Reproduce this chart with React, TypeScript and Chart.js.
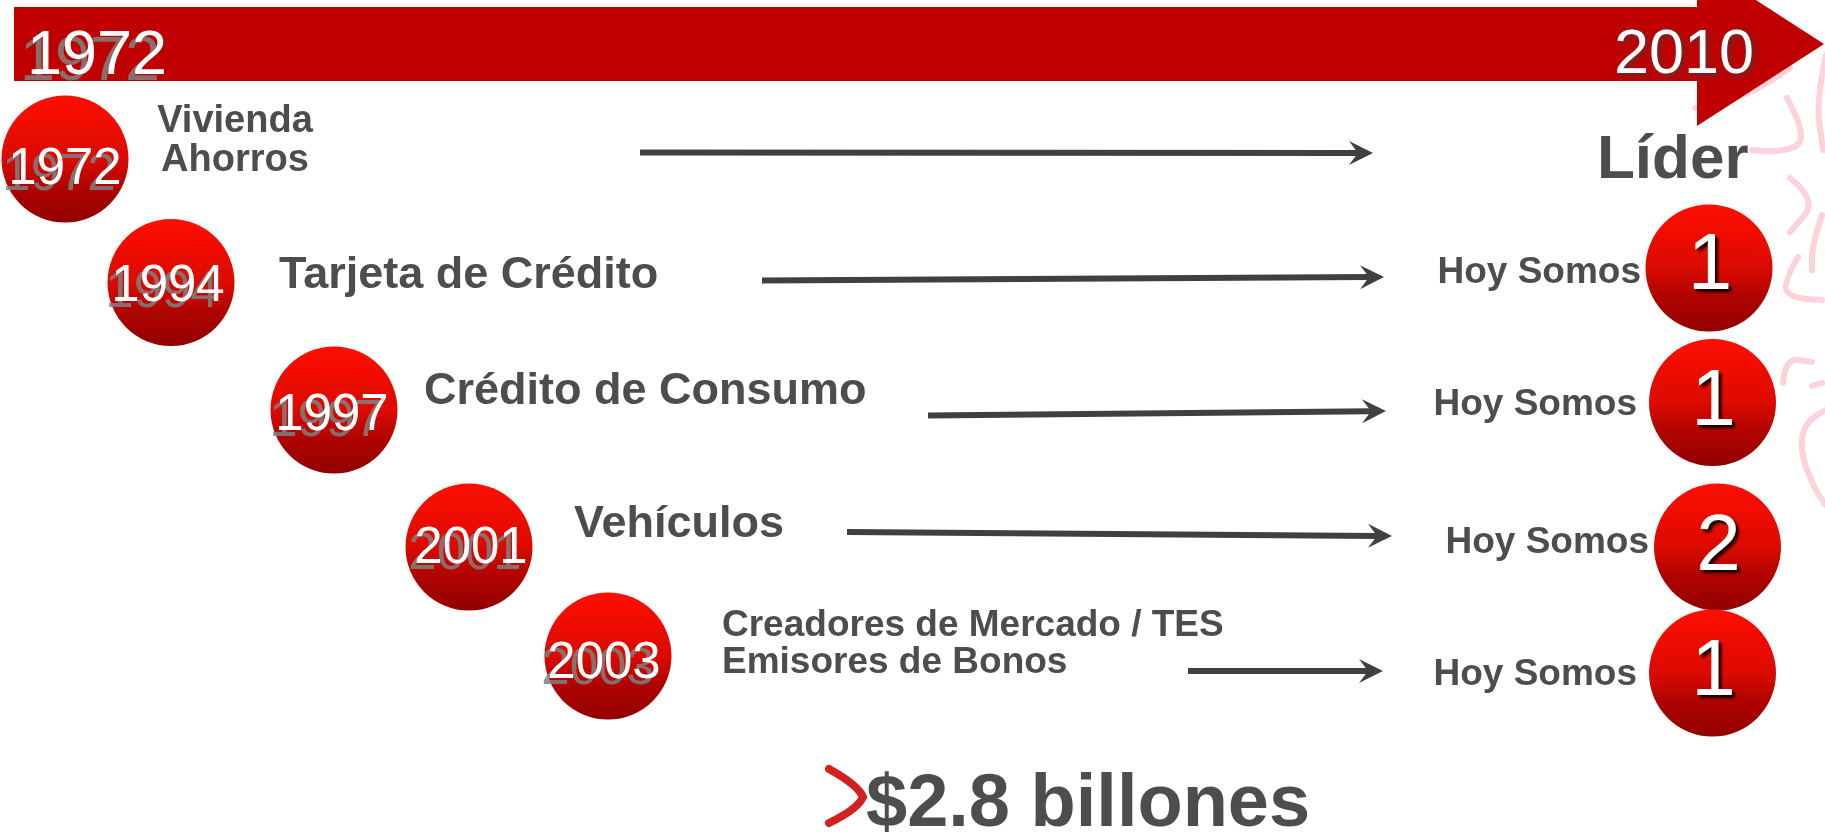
import { useEffect, useRef } from "react";
import { Chart, registerables } from "chart.js";

Chart.register(...registerables);

// ---------- data ----------
const timelineStart = "1972";
const timelineEnd = "2010";
const years = ["1972", "1994", "1997", "2001", "2003"];
const products = [
  ["Vivienda", "Ahorros"],
  ["Tarjeta de Crédito"],
  ["Crédito de Consumo"],
  ["Vehículos"],
  ["Creadores de Mercado / TES", "Emisores de Bonos"],
];
const leaderLabel = "Líder";
const rankPrefix = "Hoy Somos";
const ranks = [1, 1, 2, 1];
const totalLabel = "$2.8 billones";

// ---------- layout (canvas units) ----------
const W = 1825;
const H = 836;
const FONT = '"Liberation Sans", Arial, sans-serif';
const yearCircleX = [65, 171, 334, 469, 608];
const yearCircleY = [159, 282.5, 410, 547, 656];
const yearTextX = [65, 168, 332, 471, 604];
const yearTextY = [184, 301, 430, 563, 678];
const rankCircleX = [1709, 1712.5, 1717.5, 1712.5];
const rankCircleY = [268, 402.5, 547, 673];
const rankTextY = [289, 424.5, 570, 695];
const hoyRight = [1641, 1637, 1649, 1637];
const hoyBase = [283, 415, 553, 685];
const arrowStart = [[640, 152.5], [762, 280.5], [928, 415.5], [847, 532], [1188, 671]];
const arrowEnd = [[1373, 153], [1384, 277], [1386, 411], [1392, 536], [1383, 671]];
const productLayout = [
  { x: 235, y: [132, 171], size: 38, align: "center" },
  { x: 279, y: [288], size: 45, align: "left" },
  { x: 424, y: [404], size: 45, align: "left" },
  { x: 574, y: [537], size: 45, align: "left" },
  { x: 722, y: [636, 673], size: 37, align: "left" },
];
const bannerShape = [[14, 7], [1697, 7], [1697, -38], [1824, 44], [1697, 126], [1697, 81], [14, 81]];
const decorStrokes = [
  [[1695, 108], [1745, 98], [1790, 68]],
  [[1787, 98], [1800, 122], [1802, 146], [1775, 152], [1752, 150]],
  [[1826, 55], [1816, 100], [1823, 150]],
  [[1790, 178], [1818, 200], [1790, 232]],
  [[1822, 215], [1812, 245], [1812, 270]],
  [[1798, 257], [1782, 285], [1792, 298], [1822, 300]],
  [[1783, 383], [1785, 358], [1812, 362]],
  [[1812, 386], [1822, 383]],
  [[1826, 410], [1805, 420], [1800, 452], [1815, 490], [1826, 505]],
];

const circleGradient = (ctx: any, r: number) => {
  const raw = ctx.raw;
  const chart = ctx.chart;
  if (!raw || !chart.scales || !chart.scales.y) return "#d00800";
  const y = chart.scales.y.getPixelForValue(raw.y);
  if (!Number.isFinite(y)) return "#d00800";
  const g = chart.ctx.createLinearGradient(0, y - r, 0, y + r);
  g.addColorStop(0, "#ff0e00");
  g.addColorStop(0.5, "#dc0a00");
  g.addColorStop(0.72, "#b00400");
  g.addColorStop(1, "#920000");
  return g;
};

const infographic = {
  id: "infographic",
  beforeDatasetsDraw(chart: any) {
    const { ctx } = chart;
    const sx = chart.scales.x;
    const sy = chart.scales.y;
    const X = (v: number) => sx.getPixelForValue(v);
    const Y = (v: number) => sy.getPixelForValue(v);
    ctx.save();
    ctx.strokeStyle = "rgba(250,200,208,0.8)";
    ctx.lineWidth = 6;
    ctx.lineCap = "round";
    ctx.lineJoin = "round";
    for (const path of decorStrokes) {
      ctx.beginPath();
      ctx.moveTo(X(path[0][0]), Y(path[0][1]));
      for (let i = 1; i < path.length - 1; i++) {
        const mx = (path[i][0] + path[i + 1][0]) / 2;
        const my = (path[i][1] + path[i + 1][1]) / 2;
        ctx.quadraticCurveTo(X(path[i][0]), Y(path[i][1]), X(mx), Y(my));
      }
      const last = path[path.length - 1];
      ctx.lineTo(X(last[0]), Y(last[1]));
      ctx.stroke();
    }
    ctx.fillStyle = "#c00000";
    ctx.beginPath();
    bannerShape.forEach(([a, b], i) => (i ? ctx.lineTo(X(a), Y(b)) : ctx.moveTo(X(a), Y(b))));
    ctx.closePath();
    ctx.fill();
    ctx.restore();
  },
  afterDatasetsDraw(chart: any) {
    const { ctx } = chart;
    const sx = chart.scales.x;
    const sy = chart.scales.y;
    const X = (v: number) => sx.getPixelForValue(v);
    const Y = (v: number) => sy.getPixelForValue(v);
    ctx.save();
    ctx.textBaseline = "alphabetic";

    // arrowheads
    ctx.fillStyle = "#404040";
    arrowEnd.forEach(([ex, ey], i) => {
      const [sx0, sy0] = arrowStart[i];
      const tx = X(ex), ty = Y(ey);
      let dx = tx - X(sx0), dy = ty - Y(sy0);
      const len = Math.hypot(dx, dy);
      dx /= len; dy /= len;
      const nx = -dy, ny = dx;
      ctx.beginPath();
      ctx.moveTo(tx, ty);
      ctx.lineTo(tx - 24 * dx + 12 * nx, ty - 24 * dy + 12 * ny);
      ctx.lineTo(tx - 15 * dx, ty - 15 * dy);
      ctx.lineTo(tx - 24 * dx - 12 * nx, ty - 24 * dy - 12 * ny);
      ctx.closePath();
      ctx.fill();
    });

    // banner texts
    ctx.font = `63px ${FONT}`;
    ctx.textAlign = "left";
    ctx.fillStyle = "rgba(128,128,128,0.85)";
    ctx.fillText(timelineStart, X(20), Y(80));
    ctx.fillStyle = "#ffffff";
    ctx.fillText(timelineStart, X(27), Y(74));

    ctx.save();
    ctx.shadowColor = "rgba(60,60,60,0.8)";
    ctx.shadowBlur = 6;
    ctx.shadowOffsetX = 2;
    ctx.shadowOffsetY = 2;
    ctx.fillStyle = "#ffffff";
    ctx.fillText(timelineEnd, X(1614), Y(73));
    ctx.restore();

    // year texts in circles
    ctx.font = `51px ${FONT}`;
    ctx.textAlign = "center";
    years.forEach((yr, i) => {
      ctx.fillStyle = "rgba(128,128,128,0.85)";
      ctx.fillText(yr, X(yearTextX[i] - 6), Y(yearTextY[i] + 6));
      ctx.fillStyle = "#ffffff";
      ctx.fillText(yr, X(yearTextX[i]), Y(yearTextY[i]));
    });

    // product labels
    ctx.fillStyle = "#4d4d4d";
    products.forEach((lines, i) => {
      const l = productLayout[i];
      ctx.font = `bold ${l.size}px ${FONT}`;
      ctx.textAlign = l.align;
      lines.forEach((s, j) => ctx.fillText(s, X(l.x), Y(l.y[j])));
    });

    // leader
    ctx.font = `bold 62px ${FONT}`;
    ctx.textAlign = "left";
    ctx.fillText(leaderLabel, X(1597), Y(178));

    // hoy somos
    ctx.font = `bold 37px ${FONT}`;
    ctx.textAlign = "right";
    ranks.forEach((_, i) => ctx.fillText(rankPrefix, X(hoyRight[i]), Y(hoyBase[i])));

    // rank digits
    ctx.save();
    ctx.font = `80px ${FONT}`;
    ctx.textAlign = "center";
    ctx.shadowColor = "rgba(0,0,0,0.9)";
    ctx.shadowBlur = 3;
    ctx.shadowOffsetX = 3;
    ctx.shadowOffsetY = 3;
    ctx.fillStyle = "#ffffff";
    ranks.forEach((r, i) => ctx.fillText(String(r), X(rankCircleX[i] + 1), Y(rankTextY[i])));
    ctx.restore();

    // total
    ctx.strokeStyle = "#d42020";
    ctx.lineWidth = 8;
    ctx.lineCap = "round";
    ctx.beginPath();
    ctx.moveTo(X(829), Y(769));
    ctx.quadraticCurveTo(X(858), Y(785), X(863), Y(797));
    ctx.quadraticCurveTo(X(858), Y(809), X(829), Y(823));
    ctx.stroke();
    ctx.fillStyle = "#4d4d4d";
    ctx.font = `bold 74px ${FONT}`;
    ctx.textAlign = "left";
    ctx.fillText(totalLabel, X(866), Y(826));

    ctx.restore();
  },
};

export default function App() {
  const ref = useRef<HTMLCanvasElement | null>(null);
  useEffect(() => {
    if (!ref.current) return;
    const arrowSets = arrowStart.map((s, i) => ({
      type: "scatter" as const,
      data: [
        { x: s[0], y: s[1] },
        { x: arrowEnd[i][0] - 14, y: arrowEnd[i][1] + ((s[1] - arrowEnd[i][1]) * 14) / (arrowEnd[i][0] - s[0]) },
      ],
      showLine: true,
      borderColor: "#404040",
      borderWidth: 6,
      pointRadius: 0,
      pointHoverRadius: 0,
    }));
    const chart = new Chart(ref.current, {
      type: "scatter",
      data: {
        datasets: [
          ...arrowSets,
          {
            data: years.map((_, i) => ({ x: yearCircleX[i], y: yearCircleY[i] })),
            pointRadius: 63.5,
            pointHoverRadius: 63.5,
            borderWidth: 0,
            pointBorderWidth: 0,
            backgroundColor: (c: any) => circleGradient(c, 64),
          } as any,
          {
            data: ranks.map((_, i) => ({ x: rankCircleX[i], y: rankCircleY[i] })),
            pointRadius: 63.5,
            pointHoverRadius: 63.5,
            borderWidth: 0,
            pointBorderWidth: 0,
            backgroundColor: (c: any) => circleGradient(c, 64),
          } as any,
        ],
      },
      options: {
        animation: false,
        responsive: true,
        maintainAspectRatio: false,
        events: [],
        clip: false,
        layout: { padding: 0, autoPadding: false },
        plugins: { legend: { display: false }, tooltip: { enabled: false } },
        scales: {
          x: { type: "linear", min: 0, max: W, display: false },
          y: { type: "linear", min: 0, max: H, reverse: true, display: false },
        },
      } as any,
      plugins: [infographic as any],
    });
    return () => chart.destroy();
  }, []);
  return (
    <div style={{ position: "absolute", left: 0, top: 0, width: W, height: H, background: "#ffffff" }}>
      <canvas ref={ref} />
    </div>
  );
}
